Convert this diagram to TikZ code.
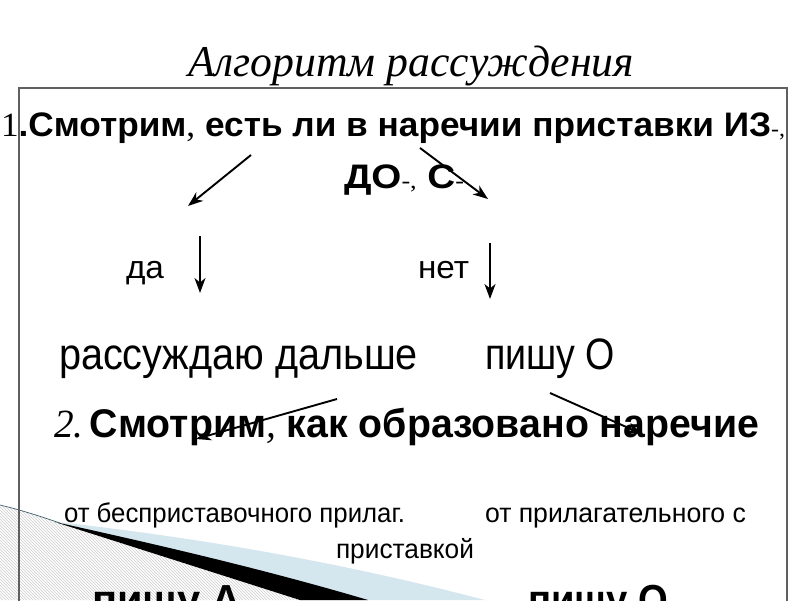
\documentclass[tikz,border=0pt]{standalone}
\usepackage{fontspec}
\setmainfont{Liberation Sans}
\newfontfamily\seriffam{Liberation Serif}
\usetikzlibrary{arrows.meta,patterns}
\newcommand\fitw[2]{\resizebox{#1pt}{\height}{#2}}
\newcommand\fsz[1]{\fontsize{#1}{#1}\selectfont}
\definecolor{wedgeblue}{HTML}{D5E7EE}
\definecolor{curvecol}{HTML}{3E5F6E}
\definecolor{framecol}{HTML}{606060}
\tikzset{
  txt/.style={anchor=base west, inner sep=0pt, outer sep=0pt},
  arr/.style={line width=1.9pt, -{Stealth[length=15pt,width=11pt,inset=4.5pt]}},
}
\begin{document}
\begin{tikzpicture}[x=1pt,y=-1pt]
\useasboundingbox (0,0) rectangle (800,600);
\clip (0,0) rectangle (800,600);
\fill[white] (0,0) rectangle (800,600);
% decoration
\fill[pattern=north west lines, pattern color=black!20] (0,505) .. controls (25,511) and (45,518) .. (55,522) -- (300,600) -- (0,600) -- cycle;
\fill[wedgeblue] (58,522) .. controls (200,538) and (340,562) .. (485,600) -- (300,600) -- cycle;
\fill[black] (55,522) .. controls (150,543) and (260,568) .. (368,600) -- (300,600) -- cycle;
\draw[curvecol, line width=0.7pt] (0,505) .. controls (25,511) and (45,518) .. (60,523);
% frame
\draw[framecol, line width=1.1pt] (19,620) -- (19,88) -- (787,88) -- (787,620);
% title
\node[txt] (title) at (188,76) {\fitw{446}{\seriffam\itshape\fsz{44}Алгоритм рассуждения}};
% line 1
\node[txt] (l1) at (1,136) {\fitw{784}{\fsz{34}{\seriffam 1}\textbf{.Смотрим}{\seriffam,} \textbf{есть ли в наречии приставки ИЗ}{\seriffam\fsz{23}-,}}};
\node[txt] (l1b) at (344,188) {\fitw{120}{\fsz{34}\textbf{ДО}{\seriffam\fsz{23}-,} \textbf{С}{\seriffam\fsz{23}-}}};
% да / нет
\node[txt] (da) at (126,278) {\fitw{38}{\fsz{32}да}};
\node[txt] (net) at (418,278) {\fitw{51}{\fsz{32}нет}};
% second level
\node[txt] (ras) at (59,369) {\fitw{359}{\fsz{44}рассуждаю дальше}};
\node[txt] (pishu) at (485,369) {\fitw{130}{\fsz{44}пишу О}};
% line 2
\node[txt] (l2) at (54,437) {\fitw{705}{\fsz{40}{\seriffam\itshape 2.}\,\textbf{Смотрим}{\seriffam\itshape ,} \textbf{как образовано наречие}}};
% third level
\node[txt] (ot1) at (64,522) {\fitw{341}{\fsz{27}от бесприставочного прилаг.}};
\node[txt] (ot2) at (485,522) {\fitw{261}{\fsz{27}от прилагательного с}};
\node[txt] (ot2b) at (336,558) {\fitw{138}{\fsz{27}приставкой}};
% bottom (cut off by the lower edge, as in the reference)
\node[txt] (pa) at (92,614) {\fitw{150}{\fsz{42}\textbf{пишу А}}};
\node[txt] (po) at (528,614) {\fitw{140}{\fsz{42}\textbf{пишу О}}};
% arrow end points
\coordinate (a1s) at (251,155); \coordinate (a1e) at (188,206);
\coordinate (a2s) at (420,148); \coordinate (a2e) at (488,199);
\coordinate (a3s) at (200,236); \coordinate (a3e) at (200,293);
\coordinate (a4s) at (490,243); \coordinate (a4e) at (490,299);
\coordinate (a5s) at (337,399); \coordinate (a5e) at (196,439);
\coordinate (a6s) at (550,393); \coordinate (a6e) at (642,434);
\draw[arr] (a1s) -- (a1e);
\draw[arr] (a2s) -- (a2e);
\draw[arr] (a3s) -- (a3e);
\draw[arr] (a4s) -- (a4e);
\draw[arr] (a5s) -- (a5e);
\draw[arr] (a6s) -- (a6e);
\end{tikzpicture}
\end{document}
